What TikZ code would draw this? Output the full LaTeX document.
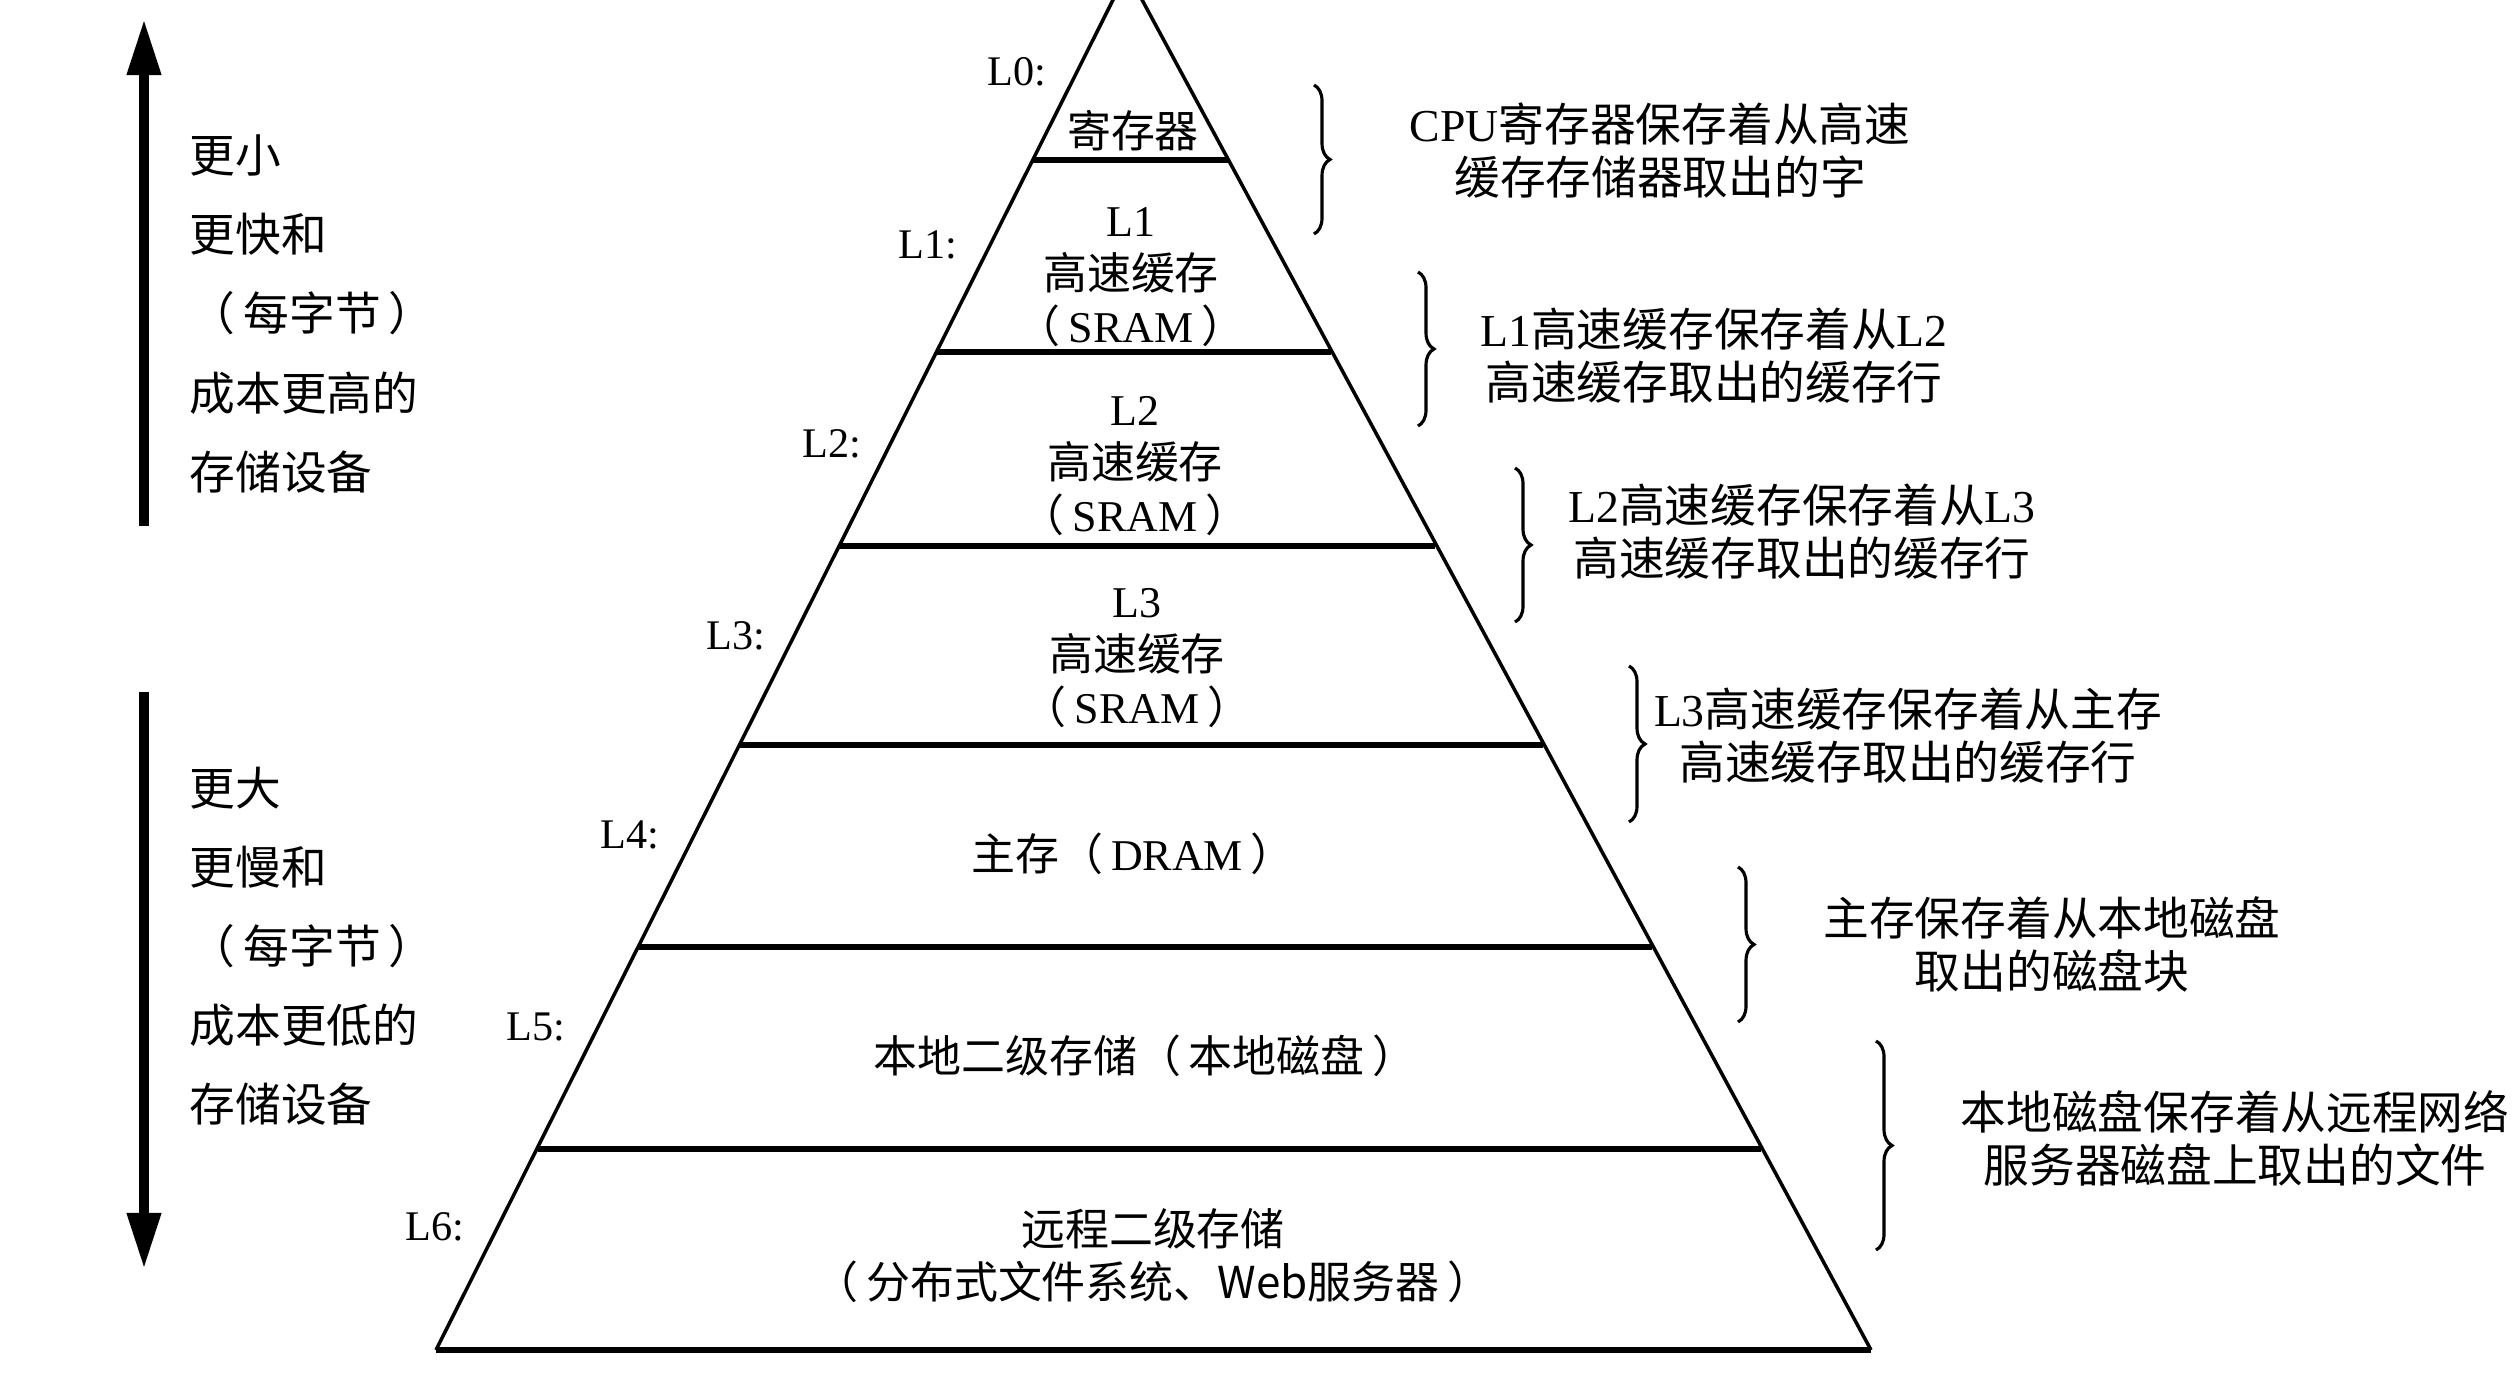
\documentclass[tikz,border=0pt]{standalone}
\usepackage{fontspec}
\setmainfont{Noto Sans CJK SC}
\newfontfamily\en{Liberation Serif}
\usetikzlibrary{arrows.meta,decorations.pathreplacing}
\newcommand{\lp}{（\hspace{0.18em}}
\newcommand{\rp}{\hspace{0.18em}）}
\begin{document}
\begin{tikzpicture}[x=0.01cm,y=-0.01cm,
  edge/.style={line width=1pt, line join=miter},
  rung/.style={line width=1.5pt},
  lvl/.style={anchor=east, inner sep=0pt, font=\en\fontsize{12}{13}\selectfont},
  ptext/.style={align=center, inner sep=0pt, font=\fontsize{12.5}{15.1}\selectfont},
  rtext/.style={align=center, inner sep=0pt, font=\fontsize{13}{15.1}\selectfont},
  ltext/.style={align=left, anchor=west, inner sep=0pt, font=\fontsize{13}{22.5}\selectfont},
  bigarrow/.style={line width=2.9pt, -{Triangle[length=0.56cm,width=0.32cm]}},
  curly/.style={line width=0.9pt, decorate, decoration={brace, amplitude=0.16cm}}]
\useasboundingbox (0,0) rectangle (2512,1392);
\clip (0,0) rectangle (2512,1392);
\fill[white] (0,0) rectangle (2512,1392);

% pyramid
\coordinate (apex) at (1127,-28);
\coordinate (bl) at (436,1350);
\coordinate (br) at (1871,1350);
\draw[edge] (bl) -- (apex) -- (br);
\draw[rung] (bl) -- (br);
\coordinate (r0l) at (1033,160);  \coordinate (r0r) at (1229,160);
\coordinate (r1l) at (937,352);   \coordinate (r1r) at (1331,352);
\coordinate (r2l) at (839,546);   \coordinate (r2r) at (1435,546);
\coordinate (r3l) at (740,745);   \coordinate (r3r) at (1543,745);
\coordinate (r4l) at (639,947);   \coordinate (r4r) at (1652,947);
\coordinate (r5l) at (538,1149);  \coordinate (r5r) at (1761,1149);
\foreach \i in {0,...,5} { \draw[rung] (r\i l) -- (r\i r); }

% pyramid texts
\node[ptext] (t0) at (1133,131) {寄存器};
\node[ptext] (t1) at (1131,277) {{\en L1}\\高速缓存\\\lp{\en SRAM}\rp};
\node[ptext] (t2) at (1135,466) {{\en L2}\\高速缓存\\\lp{\en SRAM}\rp};
\node[ptext] (t3) at (1137,658) {{\en L3}\\高速缓存\\\lp{\en SRAM}\rp};
\node[ptext] (t4) at (1133,854) {主存\lp{\en DRAM}\rp};
\node[ptext] (t5) at (1145,1056) {本地二级存储\lp 本地磁盘\rp};
\node[ptext] (t6) at (1153,1256) {远程二级存储\\\lp 分布式文件系统、Web服务器\rp};

% level labels
\node[lvl] (l0) at (1047,72) {L0:};
\node[lvl] (l1) at (958,245) {L1:};
\node[lvl] (l2) at (862,444) {L2:};
\node[lvl] (l3) at (766,636) {L3:};
\node[lvl] (l4) at (660,835) {L4:};
\node[lvl] (l5) at (566,1027) {L5:};
\node[lvl] (l6) at (465,1227) {L6:};

% braces
\coordinate (b0t) at (1314,85);   \coordinate (b0b) at (1314,234);
\coordinate (b1t) at (1418,272);  \coordinate (b1b) at (1418,426);
\coordinate (b2t) at (1515,468);  \coordinate (b2b) at (1515,622);
\coordinate (b3t) at (1629,666);  \coordinate (b3b) at (1629,822);
\coordinate (b4t) at (1738,867);  \coordinate (b4b) at (1738,1022);
\coordinate (b5t) at (1876,1041); \coordinate (b5b) at (1876,1250);
\foreach \i in {0,...,5} { \draw[curly] (b\i t) -- (b\i b); }

% right descriptions
\node[rtext] (d0) at (1660,151) {{\en CPU}寄存器保存着从高速\\缓存存储器取出的字};
\node[rtext] (d1) at (1714,356) {{\en L1}高速缓存保存着从{\en L2}\\高速缓存取出的缓存行};
\node[rtext] (d2) at (1802,532) {{\en L2}高速缓存保存着从{\en L3}\\高速缓存取出的缓存行};
\node[rtext] (d3) at (1908,736) {{\en L3}高速缓存保存着从主存\\高速缓存取出的缓存行};
\node[rtext] (d4) at (2052,944) {主存保存着从本地磁盘\\取出的磁盘块};
\node[rtext] (d5) at (2235,1138) {本地磁盘保存着从远程网络\\服务器磁盘上取出的文件};

% left arrows and texts
\coordinate (ua0) at (144,526); \coordinate (ua1) at (144,19);
\coordinate (da0) at (144,692); \coordinate (da1) at (144,1269);
\draw[bigarrow] (ua0) -- (ua1);
\draw[bigarrow] (da0) -- (da1);
\node[ltext] (up) at (189,314) {更小\\更快和\\\lp 每字节\rp\\成本更高的\\存储设备};
\node[ltext] (dn) at (189,946) {更大\\更慢和\\\lp 每字节\rp\\成本更低的\\存储设备};
\end{tikzpicture}
\end{document}
